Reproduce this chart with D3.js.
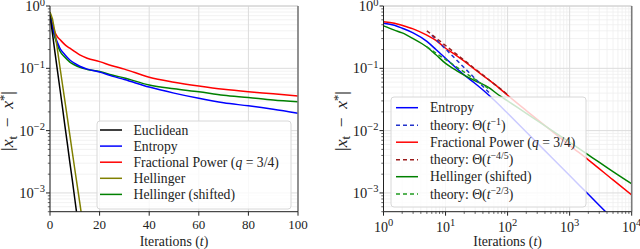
<!DOCTYPE html>
<html>
<head>
<meta charset="utf-8">
<script src="https://cdn.jsdelivr.net/npm/d3@7/dist/d3.min.js"></script>
<style>
body { margin: 0; background: #fff; }
svg text { font-family: "Liberation Serif", serif; fill: #222; }
</style>
</head>
<body>
<div id="chart-area"></div>
<script>
// ---- left panel (linear iterations) ----
var tLeft = [0, 1, 2, 3, 4, 6, 8, 10, 12, 15, 20, 25, 30, 40, 50, 60, 70, 80, 90, 100];
var entropyLeft = [0.72, 0.45, 0.33, 0.26, 0.21, 0.165, 0.136, 0.12, 0.108, 0.097, 0.087, 0.075, 0.066, 0.05, 0.04, 0.033, 0.028, 0.025, 0.022, 0.019];
var fracLeft = [0.76, 0.5, 0.38, 0.32, 0.29, 0.24, 0.21, 0.185, 0.164, 0.145, 0.128, 0.11, 0.097, 0.072, 0.06, 0.052, 0.046, 0.042, 0.039, 0.036];
var hellShiftLeft = [0.8, 0.45, 0.31, 0.24, 0.19, 0.15, 0.126, 0.113, 0.104, 0.096, 0.089, 0.078, 0.07, 0.054, 0.047, 0.042, 0.037, 0.034, 0.031, 0.029];

var tFast = [0, 1, 2, 3, 4, 5, 6, 7, 8, 9, 10, 11, 12, 13];
var euclidLeft = [0.7, 0.36, 0.18, 0.092, 0.047, 0.024, 0.012, 0.0062, 0.0031, 0.0016, 0.0008, 0.0004, 0.0002, 0.0001];
var hellLeft = [0.8, 0.62, 0.38, 0.2, 0.105, 0.056, 0.03, 0.016, 0.0085, 0.0045, 0.0024, 0.0013, 0.0007, 0.00037];

// ---- right panel (log-log) ----
var tRight = [1, 1.5, 2, 3, 5, 7, 10, 15, 20, 30, 50, 70, 100, 200, 500, 1000, 2000, 5000, 10000];
var entropyRight = [0.53, 0.49, 0.44, 0.37, 0.27, 0.2, 0.145, 0.1, 0.078, 0.057, 0.037, 0.027, 0.019, 0.0095, 0.0038, 0.0019, 0.00095, 0.00038, 0.00019];
var fracRight = [0.56, 0.53, 0.49, 0.43, 0.34, 0.28, 0.21, 0.16, 0.13, 0.095, 0.065, 0.05, 0.037, 0.021, 0.0101, 0.0058, 0.0034, 0.00162, 0.00093];
var hellShiftRight = [0.48, 0.41, 0.37, 0.3, 0.22, 0.165, 0.12, 0.092, 0.078, 0.063, 0.049, 0.038, 0.03, 0.0189, 0.0103, 0.0065, 0.0041, 0.0022, 0.0014];

// theory rates (dashed)
var theoryEntropyT = [6, 50], theoryEntropy = [0.34, 0.041];
var theoryFracT = [5, 100], theoryFrac = [0.40, 0.038];
var theoryHellT = [5, 50], theoryHell = [0.22, 0.047];

// ticks
var xTicksLeft = [0, 20, 40, 60, 80, 100];
var yTickPowers = [0, -1, -2, -3];
var xTickPowersRight = [0, 1, 2, 3, 4];

var legendLeft = [
    { parts: [["Euclidean"]], color: "#000000", dash: null },
    { parts: [["Entropy"]], color: "#0000ff", dash: null },
    { parts: [["Fractional Power ("], ["q", "i"], [" = 3/4)"]], color: "#ff0000", dash: null },
    { parts: [["Hellinger"]], color: "#808000", dash: null },
    { parts: [["Hellinger (shifted)"]], color: "#008000", dash: null }
];
var legendRight = [
    { parts: [["Entropy"]], color: "#0000ff", dash: null },
    { parts: [["theory: \u0398("], ["t", "i"], ["\u22121", "sup"], [")"]], color: "#2233cc", dash: "4,3" },
    { parts: [["Fractional Power ("], ["q", "i"], [" = 3/4)"]], color: "#ff0000", dash: null },
    { parts: [["theory: \u0398("], ["t", "i"], ["\u22124/5", "sup"], [")"]], color: "#9b1c1c", dash: "4,3" },
    { parts: [["Hellinger (shifted)"]], color: "#008000", dash: null },
    { parts: [["theory: \u0398("], ["t", "i"], ["\u22122/3", "sup"], [")"]], color: "#1f9a1f", dash: "4,3" }
];

var width = 640, height = 249;
var plotTop = 6, plotBottom = 211.7;

var svg = d3.select("#chart-area")
    .append("svg")
        .attr("width", width)
        .attr("height", height);

function zip(ts, vs) {
    return ts.map((t, i) => [t, vs[i]]);
}

// text made of plain / italic / superscript / subscript pieces
function richText(sel, parts, size) {
    var shift = 0;
    parts.forEach(p => {
        var ts = sel.append("tspan").text(p[0]);
        if (p[1] === "i") ts.style("font-style", "italic");
        if (p[1] === "sup") {
            ts.attr("dy", -5 - shift).attr("font-size", size * 0.72);
            shift = -5;
        } else if (p[1] === "sub") {
            ts.attr("dy", 3.5 - shift).attr("font-size", size * 0.72);
            shift = 3.5;
        } else if (shift !== 0) {
            ts.attr("dy", -shift);
            shift = 0;
        }
    });
}

function powLabel(sel, p) {
    sel.append("tspan").text("10");
    sel.append("tspan").attr("dy", -5.5).attr("font-size", 10.5)
        .text(p < 0 ? "\u2212" + (-p) : p);
}

function isDecade(v) {
    return Math.abs(Math.log10(v) - Math.round(Math.log10(v))) < 1e-6;
}

function panel(x0, x1, xScale, isLog, name) {
    var y = d3.scaleLog().domain([5e-4, 1]).range([plotBottom, plotTop]);
    var g = svg.append("g");

    g.append("clipPath").attr("id", "clip-" + name)
        .append("rect")
            .attr("x", x0).attr("y", plotTop)
            .attr("width", x1 - x0).attr("height", plotBottom - plotTop);

    // grid
    var yMajor = yTickPowers.map(p => Math.pow(10, p));
    var yMinor = y.ticks().filter(v => !isDecade(v));
    var xMajor, xMinor = [];
    if (isLog) {
        xMajor = xTickPowersRight.map(p => Math.pow(10, p));
        xMinor = xScale.ticks().filter(v => !isDecade(v));
    } else {
        xMajor = xTicksLeft;
    }
    var grid = g.append("g");
    grid.selectAll(".ymin").data(yMinor).enter().append("line")
        .attr("x1", x0).attr("x2", x1)
        .attr("y1", d => y(d)).attr("y2", d => y(d))
        .attr("stroke", "#efefef").attr("stroke-width", 0.8);
    grid.selectAll(".xmin").data(xMinor).enter().append("line")
        .attr("x1", d => xScale(d)).attr("x2", d => xScale(d))
        .attr("y1", plotTop).attr("y2", plotBottom)
        .attr("stroke", "#efefef").attr("stroke-width", 0.8);
    grid.selectAll(".ymaj").data(yMajor).enter().append("line")
        .attr("x1", x0).attr("x2", x1)
        .attr("y1", d => y(d)).attr("y2", d => y(d))
        .attr("stroke", "#dcdcdc").attr("stroke-width", 1);
    grid.selectAll(".xmaj").data(xMajor).enter().append("line")
        .attr("x1", d => xScale(d)).attr("x2", d => xScale(d))
        .attr("y1", plotTop).attr("y2", plotBottom)
        .attr("stroke", "#dcdcdc").attr("stroke-width", 1);

    // ticks
    var ticks = g.append("g").attr("stroke", "#222");
    ticks.selectAll(".yt").data(yMajor).enter().append("line")
        .attr("x1", x0 - 4).attr("x2", x0)
        .attr("y1", d => y(d)).attr("y2", d => y(d));
    ticks.selectAll(".ytm").data(yMinor).enter().append("line")
        .attr("x1", x0 - 2.2).attr("x2", x0)
        .attr("y1", d => y(d)).attr("y2", d => y(d))
        .attr("stroke-width", 0.7);
    ticks.selectAll(".xt").data(xMajor).enter().append("line")
        .attr("x1", d => xScale(d)).attr("x2", d => xScale(d))
        .attr("y1", plotBottom).attr("y2", plotBottom + 4);
    ticks.selectAll(".xtm").data(xMinor).enter().append("line")
        .attr("x1", d => xScale(d)).attr("x2", d => xScale(d))
        .attr("y1", plotBottom).attr("y2", plotBottom + 2.2)
        .attr("stroke-width", 0.7);

    // tick labels
    yTickPowers.forEach(p => {
        var t = g.append("text")
            .attr("x", x0 - 5).attr("y", y(Math.pow(10, p)) + 5)
            .attr("text-anchor", "end").attr("font-size", 14.5);
        powLabel(t, p);
    });
    if (isLog) {
        xTickPowersRight.forEach(p => {
            var t = g.append("text")
                .attr("x", xScale(Math.pow(10, p))).attr("y", plotBottom + 20)
                .attr("text-anchor", "middle").attr("font-size", 14);
            powLabel(t, p);
        });
    } else {
        g.selectAll(".xl").data(xTicksLeft).enter().append("text")
            .attr("x", d => xScale(d)).attr("y", plotBottom + 17.5)
            .attr("text-anchor", "middle").attr("font-size", 13)
            .text(d => d);
    }

    // axis labels
    var xl = g.append("text")
        .attr("x", (x0 + x1) / 2).attr("y", plotBottom + 33.8)
        .attr("text-anchor", "middle").attr("font-size", 13.8);
    richText(xl, [["Iterations ("], ["t", "i"], [")"]], 13.8);

    var yl = g.append("text")
        .attr("transform", "translate(" + (x0 - 37) + ",121) rotate(-90)")
        .attr("text-anchor", "middle").attr("font-size", 17.5);
    richText(yl, [["|"], ["x", "i"], ["t", "sub"], ["\u2002\u2212\u2002"], ["x", "i"], ["*", "sup"], ["|"]], 17.5);

    var plot = g.append("g").attr("clip-path", "url(#clip-" + name + ")");
    return { g: g, plot: plot, y: y };
}

function drawLine(p, xScale, pts, color, dash, curve) {
    var line = d3.line()
        .x(d => xScale(d[0]))
        .y(d => p.y(d[1]))
        .curve(curve || d3.curveMonotoneX);
    p.plot.append("path")
        .datum(pts)
        .attr("d", line)
        .attr("fill", "none")
        .attr("stroke", color)
        .attr("stroke-width", 1.5)
        .attr("stroke-dasharray", dash);
}

function spines(x0, x1) {
    svg.append("line").attr("x1", x0).attr("x2", x1).attr("y1", plotTop).attr("y2", plotTop)
        .attr("stroke", "#d0d0d0").attr("stroke-width", 1);
    svg.append("line").attr("x1", x1).attr("x2", x1).attr("y1", plotTop).attr("y2", plotBottom)
        .attr("stroke", "#7a7a7a").attr("stroke-width", 1.6);
    svg.append("line").attr("x1", x0).attr("x2", x0).attr("y1", plotTop).attr("y2", plotBottom)
        .attr("stroke", "#222").attr("stroke-width", 1);
    svg.append("line").attr("x1", x0).attr("x2", x1).attr("y1", plotBottom).attr("y2", plotBottom)
        .attr("stroke", "#222").attr("stroke-width", 1);
}

function legend(items, bx, by, bw, bh, rows, lineX, textX) {
    var lg = svg.append("g");
    lg.append("rect")
        .attr("x", bx).attr("y", by).attr("width", bw).attr("height", bh)
        .attr("rx", 3)
        .attr("fill", "#fff").attr("fill-opacity", 0.8)
        .attr("stroke", "#d8d8d8").attr("stroke-width", 1);
    items.forEach((it, i) => {
        lg.append("line")
            .attr("x1", lineX).attr("x2", lineX + 22)
            .attr("y1", rows[i]).attr("y2", rows[i])
            .attr("stroke", it.color).attr("stroke-width", 1.5)
            .attr("stroke-dasharray", it.dash);
        var t = lg.append("text")
            .attr("x", textX).attr("y", rows[i] + 4.5)
            .attr("font-size", 13.7);
        richText(t, it.parts, 13.7);
    });
}

// left panel
var xLeft = d3.scaleLinear().domain([0, 100]).range([50, 298]);
var pL = panel(50, 298, xLeft, false, "left");
drawLine(pL, xLeft, zip(tLeft, fracLeft), "#ff0000");
drawLine(pL, xLeft, zip(tLeft, hellShiftLeft), "#008000");
drawLine(pL, xLeft, zip(tLeft, entropyLeft), "#0000ff");
drawLine(pL, xLeft, zip(tFast, hellLeft), "#808000", null, d3.curveLinear);
drawLine(pL, xLeft, zip(tFast, euclidLeft), "#000000", null, d3.curveLinear);
spines(50, 298);
legend(legendLeft, 97, 121, 194, 88, [130, 146.1, 162.2, 178.3, 194.4], 100, 133.5);

// right panel
var xRight = d3.scaleLog().domain([1, 1e4]).range([383.5, 631.7]);
var pR = panel(383.5, 631.7, xRight, true, "right");
drawLine(pR, xRight, zip(tRight, entropyRight), "#0000ff");
drawLine(pR, xRight, zip(tRight, fracRight), "#ff0000");
drawLine(pR, xRight, zip(tRight, hellShiftRight), "#008000");
drawLine(pR, xRight, zip(theoryEntropyT, theoryEntropy), "#2233cc", "4,3", d3.curveLinear);
drawLine(pR, xRight, zip(theoryFracT, theoryFrac), "#9b1c1c", "4,3", d3.curveLinear);
drawLine(pR, xRight, zip(theoryHellT, theoryHell), "#1f9a1f", "4,3", d3.curveLinear);
spines(383.5, 631.7);
legend(legendRight, 391, 97, 195, 110, [107.7, 125.2, 142.2, 159.7, 176.7, 194], 396, 430);
</script>
</body>
</html>
